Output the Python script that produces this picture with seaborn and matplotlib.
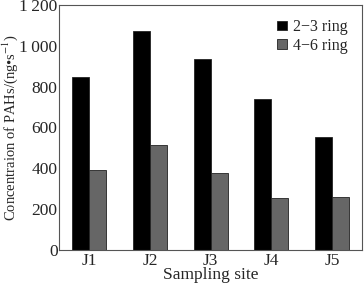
import matplotlib
matplotlib.use("Agg")
import matplotlib.pyplot as plt
import seaborn as sns
import pandas as pd

sites = ["J1", "J2", "J3", "J4", "J5"]
ring_23 = [848, 1072, 937, 737, 553]
ring_46 = [393, 512, 376, 252, 260]
series_names = ["2\u22123 ring", "4\u22126 ring"]
yticks = [0, 200, 400, 600, 800, 1000, 1200]
ytick_labels = ["0", "200", "400", "600", "800", "1\u2009000", "1\u2009200"]

df = pd.DataFrame({
    "site": sites * 2,
    "value": ring_23 + ring_46,
    "series": [series_names[0]] * len(sites) + [series_names[1]] * len(sites),
})

sns.set_style("white")
plt.rcParams["font.family"] = ["Liberation Serif", "DejaVu Serif"]
plt.rcParams["mathtext.fontset"] = "stix"

fig = plt.figure(figsize=(3.64, 2.86), dpi=100)
ax = fig.add_axes([0.162, 0.126, 0.833, 0.857])
sns.barplot(data=df, x="site", y="value", hue="series",
            palette=["#000000", "#666666"], width=0.56,
            edgecolor="#222222", linewidth=0.6, ax=ax)

ax.set_ylim(0, 1200)
ax.set_yticks(yticks)
ax.set_yticklabels(ytick_labels, fontsize=12.5)
ax.tick_params(axis="x", labelsize=12.5, length=0, pad=2)
ax.tick_params(axis="y", length=0, pad=1)
ax.set_xlabel("Sampling site", fontsize=12.5, labelpad=-1)
ax.set_ylabel("Concentraion of PAHs/(ng\u2022s$^{-1}$)", fontsize=10.5)
ax.yaxis.set_label_coords(-0.127, 0.50)
for s in ax.spines.values():
    s.set_color("#555555")
    s.set_linewidth(0.8)

leg = ax.legend(loc="upper right", frameon=False, fontsize=11.5,
                handlelength=0.6, handleheight=0.5, handletextpad=0.4,
                labelspacing=0.15, borderaxespad=0.5)

fig.savefig("out.png", dpi=100)
